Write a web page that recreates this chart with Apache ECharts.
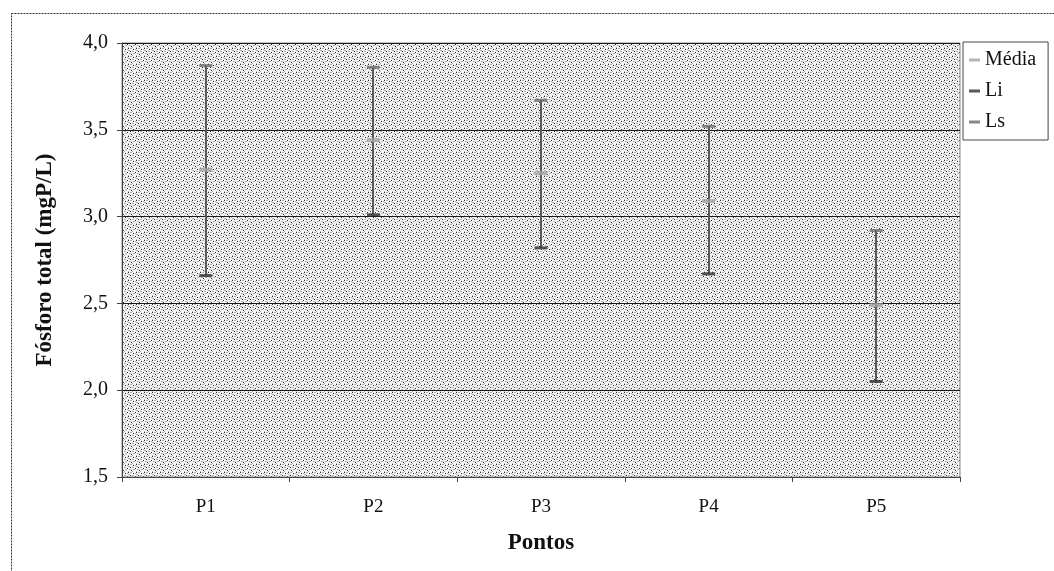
<!DOCTYPE html>
<html>
<head>
<meta charset="utf-8">
<script src="https://cdn.jsdelivr.net/npm/echarts@6/dist/echarts.min.js"></script>
<style>
  html, body { margin: 0; padding: 0; background: #ffffff; }
  #chart { width: 1054px; height: 571px; }
</style>
</head>
<body>
<div id="chart"></div>
<script>
// Total phosphorus per sampling point: mean with lower / upper limits
const categories = ['P1', 'P2', 'P3', 'P4', 'P5'];
const media = [3.27, 3.44, 3.25, 3.09, 2.49];
const li = [2.66, 3.01, 2.82, 2.67, 2.05];
const ls = [3.87, 3.86, 3.67, 3.52, 2.92];
const yTicks = [1.5, 2.0, 2.5, 3.0, 3.5, 4.0];

// Stippled light-gray fill for the plot area
function makeStipple() {
  const n = 8;
  const c = document.createElement('canvas');
  c.width = n; c.height = n;
  const g = c.getContext('2d');
  g.fillStyle = '#f4f4f4';
  g.fillRect(0, 0, n, n);
  const dark = [[0, 0], [5, 1], [2, 3], [7, 4], [3, 6]];
  const mid = [[2, 0], [3, 0], [7, 1], [0, 2], [1, 2], [4, 3], [5, 3],
               [1, 5], [2, 5], [5, 5], [6, 5], [0, 7], [4, 7]];
  g.fillStyle = '#2a2a2a';
  dark.forEach(p => g.fillRect(p[0], p[1], 1, 1));
  g.fillStyle = '#b2b2b2';
  mid.forEach(p => g.fillRect(p[0], p[1], 1, 1));
  return c;
}

const serif = '"Liberation Serif", "DejaVu Serif", serif';
const chart = echarts.init(document.getElementById('chart'), null, { renderer: 'canvas' });

const rangeData = categories.map((c, i) => [i, li[i], ls[i]]);

chart.setOption({
  animation: false,
  backgroundColor: '#ffffff',
  graphic: [{
    type: 'rect',
    shape: { x: 11.5, y: 13.5, width: 1060, height: 580 },
    style: { fill: 'none', stroke: '#333', lineWidth: 1, lineDash: [2, 1] },
    silent: true
  }],
  grid: {
    left: 122, right: 94, top: 43, bottom: 94,
    show: true,
    backgroundColor: { image: makeStipple(), repeat: 'repeat' },
    borderColor: '#888',
    borderWidth: 1
  },
  legend: {
    orient: 'vertical',
    left: 963, top: 42,
    padding: [8, 12, 8, 6],
    itemGap: 11,
    itemWidth: 11, itemHeight: 3,
    icon: 'rect',
    borderColor: '#444', borderWidth: 1,
    backgroundColor: '#ffffff',
    textStyle: { fontFamily: serif, fontSize: 20, color: '#111', lineHeight: 19 },
    data: ['Média', 'Li', 'Ls']
  },
  xAxis: {
    type: 'category',
    data: categories,
    boundaryGap: true,
    name: 'Pontos',
    nameLocation: 'middle',
    nameGap: 55,
    nameTextStyle: { fontFamily: serif, fontSize: 23, fontWeight: 'bold', color: '#111' },
    axisLine: { show: true, lineStyle: { color: '#444', width: 1 } },
    axisTick: { show: true, alignWithLabel: false, length: 5, lineStyle: { color: '#444' } },
    axisLabel: { fontFamily: serif, fontSize: 19, color: '#111', margin: 21 },
    splitLine: { show: false }
  },
  yAxis: {
    type: 'value',
    min: 1.5, max: 4.0, interval: 0.5,
    name: 'Fósforo total (mgP/L)',
    nameLocation: 'middle',
    nameGap: 65,
    nameRotate: 90,
    nameTextStyle: { fontFamily: serif, fontSize: 23, fontWeight: 'bold', color: '#111' },
    axisLine: { show: true, lineStyle: { color: '#444', width: 1 } },
    axisTick: { show: true, length: 5, inside: false, lineStyle: { color: '#444' } },
    axisLabel: {
      fontFamily: serif, fontSize: 20, color: '#111', margin: 14,
      formatter: v => (yTicks.indexOf(v) >= 0 ? v.toFixed(1).replace('.', ',') : '')
    },
    splitLine: { show: true, lineStyle: { color: '#1a1a1a', width: 1 } }
  },
  series: [
    {
      // High-low line joining each lower limit to its upper limit
      type: 'custom',
      name: 'range',
      data: rangeData,
      z: 2,
      renderItem: function (params, api) {
        const lo = api.coord([api.value(0), api.value(1)]);
        const hi = api.coord([api.value(0), api.value(2)]);
        const x = Math.round(lo[0]);
        return {
          type: 'line',
          shape: { x1: x, y1: lo[1], x2: x, y2: hi[1] },
          style: { stroke: '#5a5a5a', lineWidth: 2 }
        };
      }
    },
    {
      type: 'scatter', name: 'Média', data: media,
      symbol: 'rect', symbolSize: [13, 4], z: 3,
      itemStyle: { color: '#a4a4a4' }
    },
    {
      type: 'scatter', name: 'Li', data: li,
      symbol: 'rect', symbolSize: [13, 3], z: 3,
      itemStyle: { color: '#2e2e2e' }
    },
    {
      type: 'scatter', name: 'Ls', data: ls,
      symbol: 'rect', symbolSize: [13, 3], z: 3,
      itemStyle: { color: '#6a6a6a' }
    }
  ]
});
</script>
</body>
</html>
